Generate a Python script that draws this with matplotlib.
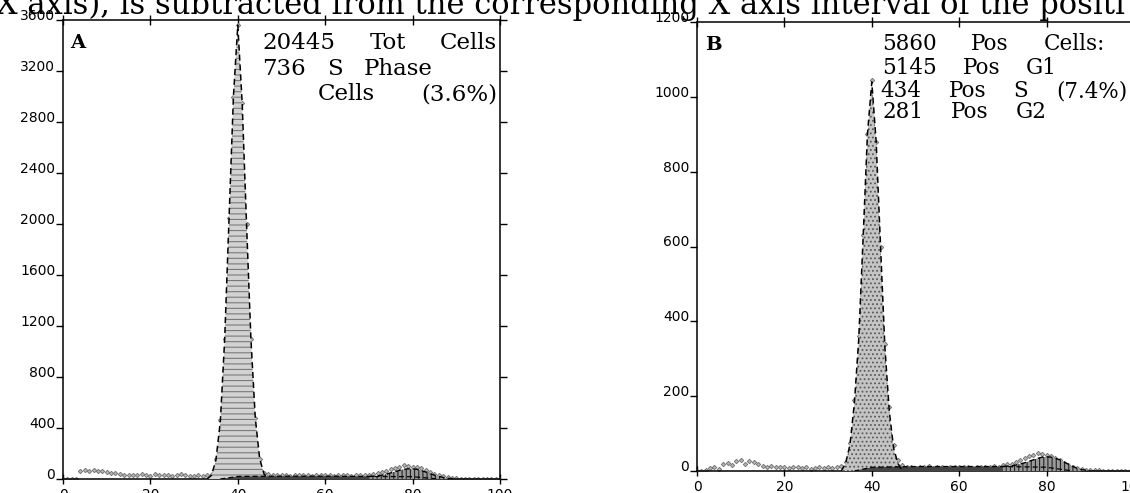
import matplotlib
matplotlib.use("Agg")
import matplotlib.pyplot as plt
import numpy as np

plt.rcParams['hatch.linewidth'] = 0.8

W, H = 1130, 493

channels = list(range(101))

# raw counts per channel, panel A (all cells)
raw_a = [0, 0, 0, 2, 62, 70, 64, 72, 60, 66,        # 0-9
         55, 50, 45, 38, 32, 30, 34, 28, 36, 30,    # 10-19
         26, 40, 30, 28, 34, 27, 31, 38, 30, 25,    # 20-29
         22, 30, 26, 32, 40, 160, 460, 1100, 2050, 3000,   # 30-39
         3560, 2950, 2000, 1100, 480, 160, 45, 40, 35, 30,  # 40-49
         28, 32, 25, 30, 28, 35, 30, 26, 30, 33,    # 50-59
         28, 30, 25, 32, 28, 30, 26, 34, 30, 28,    # 60-69
         35, 38, 45, 55, 62, 75, 85, 95, 110, 100,  # 70-79
         95, 92, 85, 70, 55, 40, 30, 22, 15, 8,     # 80-89
         5, 3, 2, 0, 0, 0, 0, 0, 0, 0, 0]           # 90-100

# raw counts per channel, panel B (positive cells)
raw_b = [0, 0, 4, 8, 10, 6, 18, 22, 16, 26,
         30, 20, 28, 24, 18, 14, 12, 14, 10, 12,
         10, 8, 12, 10, 8, 10, 6, 8, 10, 8,
         10, 8, 10, 14, 25, 75, 190, 360, 630, 900,
         1045, 880, 600, 340, 170, 70, 30, 15, 12, 10,
         8, 12, 10, 14, 8, 12, 10, 9, 12, 10,
         11, 10, 12, 9, 11, 10, 12, 10, 14, 12,
         15, 18, 20, 25, 30, 34, 40, 44, 48, 46,
         42, 40, 35, 30, 22, 15, 12, 8, 5, 4,
         3, 2, 2, 1, 0, 0, 0, 0, 0, 0, 0]

# fitted G1 peaks
g1_ch = list(range(33, 48))
g1_a = [0, 30, 150, 450, 1100, 2050, 3000, 3560, 2950, 2000, 1100, 480, 160, 40, 0]
g1_b = [0, 20, 70, 180, 350, 620, 900, 1040, 880, 600, 330, 160, 60, 20, 0]

# fitted S phase
s_ch = [36, 40, 50, 60, 70, 80, 86]
s_a = [0, 20, 22, 22, 20, 18, 0]
s_b = [0, 10, 12, 12, 12, 10, 0]

# fitted G2 peaks (on top of S)
g2_ch = list(range(70, 91))
g2_a = [20, 22, 25, 30, 38, 48, 58, 68, 76, 80, 80, 76, 66, 55, 42, 30, 20, 12, 6, 2, 0]
g2_b = [12, 13, 14, 16, 19, 22, 26, 30, 34, 37, 38, 37, 34, 30, 24, 18, 12, 7, 4, 2, 0]

# annotation lines: words, left px, right px, baseline px
lines_a = [(["20445", "Tot", "Cells"], 262, 497, 49),
           (["736", "S", "Phase"], 262, 433, 75),
           (["Cells", "(3.6%)"], 318, 497, 100)]
lines_b = [(["5860", "Pos", "Cells:"], 882, 1105, 50),
           (["5145", "Pos", "G1"], 882, 1057, 74),
           (["434", "Pos", "S", "(7.4%)"], 880, 1127, 97),
           (["281", "Pos", "G2"], 883, 1047, 118)]

fig = plt.figure(figsize=(W / 100, H / 100), dpi=100)
axA = fig.add_axes([63 / W, 14 / H, 437 / W, 459 / H])
axB = fig.add_axes([697 / W, 22 / H, 437 / W, 449 / H])


def panel(ax, raw, g1, s, g2, ymax, ystep, g1_face, g1_hatch, g1_hcol):
    ax.plot(channels, raw, ls='none', marker='D', ms=2.2, mfc='#bbbbbb',
            mec='#777777', mew=0.7, zorder=2)
    ax.fill_between(g1_ch, 0, g1, facecolor=g1_face, edgecolor=g1_hcol,
                    hatch=g1_hatch, linewidth=0, zorder=3)
    ax.fill_between(s_ch, 0, s, facecolor='#444444', linewidth=0, zorder=3)
    ax.fill_between(g2_ch, 0, g2, facecolor='#9a9a9a', edgecolor='#222222',
                    hatch='||||', linewidth=0, zorder=3)
    ax.plot(g1_ch, g1, color='black', ls=(0, (4, 2.5)), lw=1.1, zorder=4)
    ax.plot(g2_ch, g2, color='black', ls=(0, (4, 2.5)), lw=1.0, zorder=4)
    ax.plot(s_ch, s, color='black', ls=(0, (4, 2.5)), lw=0.9, zorder=4)
    ax.set_xlim(0, 100)
    ax.set_ylim(0, ymax)
    ax.set_xticks(range(0, 101, 20))
    ax.set_yticks(range(0, ymax + 1, ystep))
    ax.xaxis.set_ticks_position('both')
    ax.yaxis.set_ticks_position('both')
    ax.tick_params(axis='x', direction='inout', length=7, width=1, pad=3,
                   labelsize=10)
    ax.tick_params(axis='y', direction='out', length=5, width=1, pad=0.5,
                   labelsize=10)
    for lab in ax.get_yticklabels():
        lab.set_verticalalignment('baseline')
    for sp in ax.spines.values():
        sp.set_linewidth(1.1)


panel(axA, raw_a, g1_a, s_a, g2_a, 3600, 400, '#d2d2d2', '---', '#7a7a7a')
panel(axB, raw_b, g1_b, s_b, g2_b, 1200, 200, '#c4c4c4', '....', '#5a5a5a')

serif = 'DejaVu Serif'


def ftext(x, y, s, ha='left', **kw):
    return fig.text(x / W, 1 - y / H, s, family=serif, va='baseline', ha=ha, **kw)


ftext(-4, 14, "X axis), is subtracted from the corresponding X axis interval of the positi",
      size=22)

ftext(70, 48, "A", size=14, weight='bold')
ftext(705, 50, "B", size=14, weight='bold')

# spread the words of each line evenly between its left and right edge
renderer = fig.canvas.get_renderer()


def justified(lines, size):
    for words, left, right, base in lines:
        texts = [ftext(left, base, w, size=size) for w in words]
        widths = [t.get_window_extent(renderer).width for t in texts]
        gap = (right - left - sum(widths)) / (len(words) - 1)
        x = left
        for t, w in zip(texts, widths):
            t.set_x(x / W)
            x += w + gap


justified(lines_a, 16.5)
justified(lines_b, 15.5)

fig.savefig('out.png', dpi=100)
